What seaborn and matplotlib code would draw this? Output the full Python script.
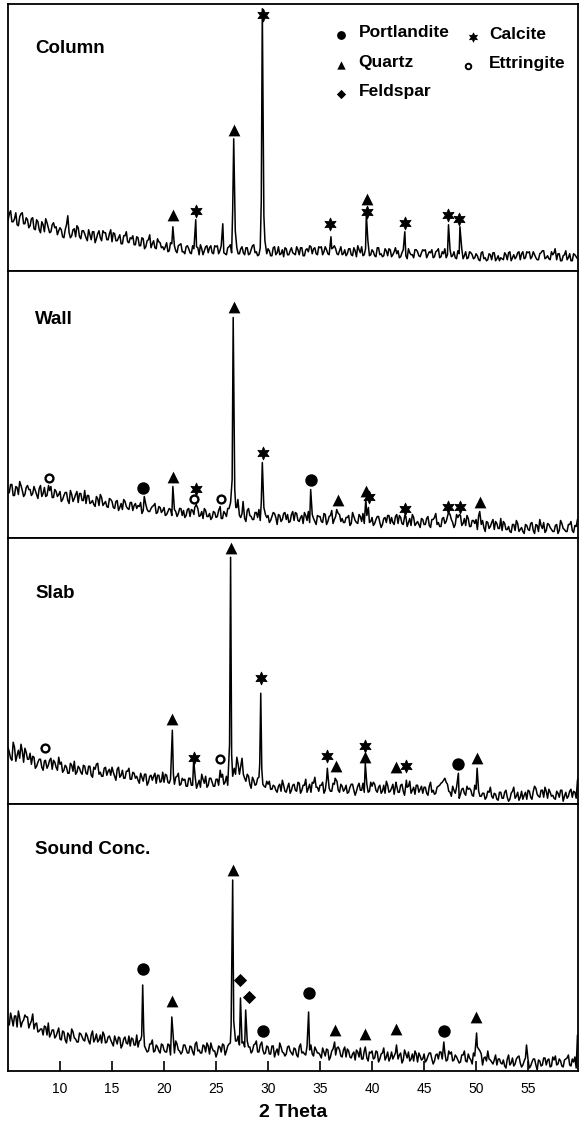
import numpy as np
import pandas as pd
import matplotlib
matplotlib.use("Agg")
import matplotlib.pyplot as plt
import seaborn as sns

# 2-theta grid of the scan (deg): main points every 0.25, plus in-between points
theta_grid = np.arange(5.0, 59.8, 0.25)
theta_mid = theta_grid + 0.125

# ---- background traces (intensity, a.u.) ----
column_base = [
    50, 60, 49, 58, 45, 57, 47, 53, 43, 52,
    42, 51, 41, 49, 39, 48, 38, 46, 43, 36,
    43, 34, 41, 55, 33, 41, 34, 43, 32, 40,
    33, 41, 31, 39, 32, 40, 30, 38, 31, 37,
    29, 37, 30, 36, 27, 35, 29, 33, 35, 26,
    33, 25, 32, 24, 31, 23, 30, 22, 29, 23,
    21, 28, 20, 27, 25, 18, 26, 19, 17, 25,
    18, 25, 17, 23, 26, 16, 24, 18, 25, 17,
    24, 17, 25, 18, 16, 24, 18, 26, 23, 17,
    24, 16, 23, 17, 25, 18, 15, 23, 17, 24,
    22, 15, 23, 16, 24, 17, 14, 22, 16, 23,
    17, 24, 16, 23, 15, 22, 25, 17, 23, 16,
    23, 16, 24, 17, 15, 23, 22, 16, 24, 17,
    15, 22, 16, 23, 14, 21, 24, 16, 22, 15,
    21, 15, 23, 16, 14, 22, 15, 21, 16, 23,
    20, 14, 21, 15, 22, 16, 13, 21, 15, 18,
    20, 13, 19, 21, 14, 20, 13, 19, 22, 16,
    21, 15, 13, 20, 14, 12, 19, 13, 18, 12,
    17, 11, 18, 12, 10, 17, 11, 18, 12, 10,
    12, 18, 11, 19, 13, 12, 18, 11, 19, 13,
    18, 12, 19, 13, 11, 18, 20, 13, 12, 19,
    18, 11, 17, 10, 16, 11, 17, 10, 16, 12,
]
column_mid = [
    57, 49, 52, 46, 54, 58, 47, 51, 45, 53,
    41, 49, 38, 46, 52, 43, 39, 48, 44, 40,
    41, 33, 46, 38, 35, 42, 45, 34, 40, 37,
    30, 36, 39, 28, 37, 33, 40, 38, 31, 41,
    38, 30, 33, 27, 35, 39, 28, 32, 26, 34,
    25, 33, 22, 30, 36, 27, 23, 32, 28, 24,
    24, 19, 28, 22, 20, 25, 27, 19, 24, 22,
    17, 22, 24, 16, 22, 20, 25, 23, 18, 25,
    25, 20, 22, 17, 23, 26, 18, 21, 17, 22,
    18, 23, 16, 21, 26, 19, 16, 23, 20, 17,
    20, 15, 24, 18, 16, 21, 23, 16, 20, 18,
    16, 21, 23, 15, 21, 19, 24, 22, 17, 24,
    24, 19, 21, 16, 22, 25, 17, 20, 16, 21,
    17, 22, 15, 20, 25, 18, 15, 22, 19, 16,
    19, 14, 23, 17, 15, 20, 22, 14, 19, 17,
    13, 18, 20, 12, 18, 16, 21, 19, 14, 21,
    21, 16, 18, 13, 19, 22, 14, 17, 13, 18,
    14, 19, 12, 17, 22, 15, 12, 19, 16, 13,
    15, 10, 19, 13, 11, 16, 18, 10, 15, 13,
    11, 16, 18, 10, 16, 14, 19, 17, 12, 19,
    19, 14, 16, 11, 17, 20, 12, 15, 11, 16,
    12, 17, 10, 15, 20, 13, 10, 17, 14, 11,
]
wall_base = [
    44, 53, 42, 51, 43, 52, 41, 50, 48, 42,
    51, 43, 49, 41, 50, 42, 47, 40, 48, 41,
    46, 38, 45, 37, 47, 36, 43, 35, 44, 37,
    34, 42, 35, 33, 41, 32, 40, 34, 31, 39,
    36, 29, 37, 30, 28, 36, 29, 35, 27, 34,
    32, 35, 27, 33, 26, 29, 32, 24, 31, 25,
    30, 23, 29, 22, 28, 21, 29, 22, 20, 28,
    21, 27, 20, 29, 22, 19, 27, 21, 18, 26,
    20, 27, 19, 26, 21, 29, 40, 40, 30, 22,
    24, 19, 27, 22, 18, 25, 20, 17, 25, 23,
    22, 17, 25, 20, 23, 16, 24, 18, 15, 23,
    17, 24, 16, 22, 25, 17, 15, 23, 16, 22,
    21, 15, 23, 16, 22, 14, 21, 24, 16, 15,
    20, 22, 14, 21, 15, 23, 16, 14, 22, 15,
    20, 14, 21, 15, 13, 20, 22, 14, 15, 21,
    14, 20, 13, 21, 15, 12, 20, 14, 13, 19,
    13, 19, 12, 18, 20, 13, 11, 19, 14, 21,
    23, 15, 13, 20, 22, 14, 12, 19, 11, 17,
    18, 22, 13, 10, 16, 9, 15, 8, 14, 9,
    7, 14, 8, 6, 13, 7, 14, 8, 6, 13,
    8, 14, 7, 13, 6, 12, 15, 7, 13, 8,
    6, 13, 7, 14, 8, 6, 13, 7, 12, 18,
]
wall_mid = [
    45, 53, 42, 50, 56, 47, 43, 52, 48, 44,
    47, 39, 52, 44, 41, 48, 51, 40, 46, 43,
    36, 42, 45, 34, 43, 39, 46, 44, 37, 47,
    42, 34, 37, 31, 39, 43, 32, 36, 30, 38,
    30, 36, 27, 34, 38, 31, 28, 35, 32, 29,
    31, 24, 35, 28, 26, 31, 34, 25, 30, 27,
    22, 26, 28, 20, 26, 24, 29, 27, 22, 29,
    28, 23, 25, 21, 26, 29, 21, 24, 20, 25,
    21, 27, 19, 24, 29, 35, 40, 40, 27, 20,
    24, 16, 29, 21, 18, 25, 28, 17, 23, 20,
    15, 21, 24, 13, 22, 18, 25, 23, 16, 26,
    25, 17, 20, 14, 22, 26, 15, 19, 13, 21,
    16, 24, 13, 21, 27, 18, 14, 23, 19, 15,
    20, 12, 25, 17, 14, 21, 24, 13, 19, 16,
    12, 18, 21, 10, 19, 15, 22, 20, 13, 23,
    22, 14, 17, 11, 19, 23, 12, 16, 10, 18,
    13, 21, 10, 18, 24, 15, 11, 20, 16, 12,
    18, 10, 23, 15, 12, 19, 22, 11, 17, 14,
    8, 14, 17, 6, 15, 11, 18, 16, 9, 19,
    16, 8, 11, 5, 13, 17, 6, 10, 4, 12,
    7, 15, 4, 12, 18, 9, 5, 14, 10, 6,
    12, 4, 17, 9, 6, 13, 16, 5, 11, 20,
]
slab_base = [
    57, 46, 62, 43, 54, 60, 42, 52, 45, 40,
    47, 38, 45, 37, 43, 36, 44, 35, 42, 34,
    40, 32, 39, 31, 41, 33, 30, 38, 32, 39,
    31, 38, 29, 37, 40, 30, 28, 36, 29, 35,
    37, 28, 35, 27, 34, 26, 33, 25, 32, 26,
    24, 31, 23, 30, 22, 29, 28, 21, 29, 23,
    22, 29, 21, 27, 20, 28, 19, 26, 25, 18,
    26, 19, 27, 20, 17, 25, 28, 19, 26, 18,
    25, 19, 27, 20, 28, 24, 30, 36, 47, 30,
    46, 26, 30, 20, 27, 19, 26, 28, 20, 17,
    20, 15, 19, 14, 18, 13, 19, 12, 21, 14,
    20, 13, 21, 14, 19, 12, 20, 22, 27, 17,
    19, 22, 14, 18, 13, 21, 26, 14, 20, 13,
    19, 12, 20, 14, 13, 21, 14, 12, 20, 13,
    18, 20, 12, 19, 13, 11, 19, 13, 20, 14,
    12, 19, 13, 20, 18, 11, 17, 19, 12, 18,
    17, 11, 18, 12, 10, 17, 19, 22, 26, 20,
    12, 18, 11, 17, 10, 16, 9, 15, 14, 8,
    15, 13, 8, 11, 7, 12, 8, 11, 5, 12,
    6, 12, 7, 5, 13, 6, 12, 7, 5, 12,
    14, 7, 13, 16, 8, 14, 7, 13, 15, 8,
    6, 13, 7, 14, 8, 6, 13, 7, 12, 24,
]
slab_mid = [
    52, 44, 57, 49, 46, 53, 56, 45, 51, 48,
    36, 42, 45, 34, 43, 39, 46, 44, 37, 47,
    42, 34, 37, 31, 39, 43, 32, 36, 30, 38,
    30, 38, 27, 35, 41, 32, 28, 37, 33, 29,
    32, 24, 37, 29, 26, 33, 36, 25, 31, 28,
    21, 27, 30, 19, 28, 24, 31, 29, 22, 32,
    30, 22, 25, 19, 27, 31, 20, 24, 18, 26,
    19, 27, 16, 24, 30, 21, 17, 26, 22, 18,
    25, 17, 30, 22, 19, 26, 40, 30, 40, 38,
    30, 23, 28, 16, 24, 20, 27, 25, 18, 23,
    23, 15, 18, 12, 20, 24, 13, 17, 11, 19,
    14, 22, 11, 19, 25, 16, 12, 21, 17, 13,
    19, 11, 24, 16, 13, 20, 23, 12, 18, 15,
    11, 17, 20, 9, 18, 14, 21, 19, 12, 22,
    22, 14, 17, 11, 19, 23, 12, 16, 10, 18,
    12, 20, 9, 17, 23, 14, 10, 19, 15, 11,
    17, 9, 22, 14, 11, 18, 21, 24, 22, 13,
    8, 14, 17, 6, 15, 11, 18, 16, 9, 19,
    16, 8, 11, 5, 13, 17, 6, 10, 4, 12,
    6, 14, 3, 11, 17, 8, 4, 13, 9, 5,
    13, 5, 18, 10, 7, 14, 17, 6, 12, 9,
    5, 11, 14, 3, 12, 8, 15, 13, 6, 28,
]
sound_base = [
    48, 58, 45, 55, 60, 44, 51, 54, 43, 50,
    42, 48, 40, 42, 45, 36, 34, 41, 33, 39,
    32, 40, 31, 38, 30, 39, 32, 29, 37, 31,
    38, 30, 36, 29, 37, 31, 28, 36, 29, 35,
    28, 35, 27, 33, 26, 34, 27, 25, 32, 26,
    24, 31, 30, 22, 20, 27, 19, 26, 20, 27,
    21, 19, 26, 20, 18, 27, 20, 19, 26, 18,
    25, 19, 27, 20, 18, 26, 19, 25, 28, 20,
    14, 25, 19, 26, 20, 27, 28, 30, 30, 26,
    28, 24, 30, 24, 20, 27, 19, 26, 21, 18,
    24, 17, 25, 19, 16, 24, 18, 17, 25, 18,
    23, 16, 24, 18, 17, 25, 21, 17, 24, 18,
    16, 23, 15, 21, 14, 22, 16, 24, 15, 21,
    14, 20, 13, 19, 21, 14, 12, 20, 13, 19,
    20, 13, 19, 12, 18, 11, 19, 13, 12, 18,
    12, 18, 11, 17, 19, 12, 10, 17, 18, 11,
    17, 11, 18, 12, 10, 17, 19, 12, 18, 11,
    17, 10, 16, 11, 9, 16, 10, 17, 11, 18,
    20, 22, 17, 13, 10, 12, 9, 11, 6, 12,
    7, 5, 12, 6, 13, 7, 14, 8, 6, 13,
    11, 5, 12, 6, 11, 5, 13, 6, 12, 5,
    11, 6, 12, 5, 11, 13, 6, 12, 14, 36,
]
sound_mid = [
    46, 52, 55, 44, 53, 49, 56, 54, 47, 57,
    47, 39, 42, 36, 44, 48, 37, 41, 35, 43,
    31, 39, 28, 36, 42, 33, 29, 38, 34, 30,
    35, 27, 40, 32, 29, 36, 39, 28, 34, 31,
    25, 31, 34, 23, 32, 28, 35, 33, 26, 36,
    30, 22, 25, 19, 27, 31, 20, 24, 18, 26,
    19, 27, 16, 24, 30, 21, 17, 26, 22, 18,
    24, 16, 29, 21, 18, 25, 28, 17, 23, 20,
    18, 24, 27, 16, 25, 28, 35, 30, 35, 32,
    29, 21, 24, 18, 26, 30, 19, 23, 17, 25,
    17, 25, 14, 22, 28, 19, 15, 24, 20, 16,
    22, 14, 27, 19, 16, 23, 26, 15, 21, 18,
    13, 19, 22, 11, 20, 16, 23, 21, 14, 24,
    22, 14, 17, 11, 19, 23, 12, 16, 10, 18,
    12, 20, 9, 17, 23, 14, 10, 19, 15, 11,
    16, 8, 21, 13, 10, 17, 20, 9, 15, 12,
    9, 15, 18, 7, 16, 12, 19, 17, 10, 20,
    19, 11, 14, 8, 16, 20, 9, 13, 7, 15,
    24, 20, 6, 14, 20, 11, 7, 16, 12, 8,
    11, 3, 16, 8, 5, 12, 15, 4, 10, 7,
    3, 9, 12, 1, 10, 6, 13, 11, 4, 14,
    15, 7, 10, 4, 12, 16, 5, 9, 3, 30,
]

# ---- reflections (2theta, intensity) ----
column_peak_x = [20.85, 23.05, 25.65, 26.6, 26.7, 26.85, 29.35, 29.45, 29.6, 29.7,
                 36.05, 39.45, 39.6, 43.15, 47.35, 48.45, 57.6]
column_peak_y = [44, 51, 47, 60, 132, 40, 70, 262, 55, 30,
                 34, 56, 30, 39, 46, 44, 22]
wall_peak_x = [8.9, 18.1, 20.85, 22.95, 23.1, 25.4, 26.4, 26.55, 26.65, 26.8, 26.9,
               27.1, 27.6, 29.35, 29.45, 29.6, 34.1, 36.6, 39.4, 39.65, 43.15,
               47.35, 48.4, 50.35]
wall_peak_y = [52, 41, 51, 30, 33, 31, 35, 58, 220, 48, 30,
               38, 36, 35, 75, 30, 48, 28, 38, 30, 22,
               25, 23, 26]
slab_peak_x = [8.6, 20.8, 20.9, 22.85, 25.4, 26.3, 26.4, 26.5, 26.6, 29.2, 29.3, 29.4,
               35.7, 36.45, 39.35, 42.3, 43.3, 48.3, 50.1]
slab_peak_y = [44, 74, 30, 44, 34, 60, 247, 50, 28, 40, 111, 35,
               36, 26, 41, 22, 24, 31, 36]
sound_peak_x = [17.85, 17.95, 18.05, 20.75, 20.85, 26.45, 26.6, 26.7, 27.35, 27.85,
                29.4, 33.9, 36.4, 39.35, 42.35, 46.9, 50.05, 54.85]
sound_peak_y = [35, 86, 40, 54, 40, 45, 191, 50, 73, 61,
                29, 59, 29, 24, 26, 29, 38, 26]

# ---- phase identification marks ----
column_mark_x = [20.9, 23.1, 26.7, 29.5, 36.0, 39.5, 39.5, 43.2, 47.3, 48.4]
column_mark_y = [56, 60, 141, 256, 47, 59, 72, 48, 56, 52]
column_mark_phase = ["Quartz", "Calcite", "Quartz", "Calcite", "Calcite", "Calcite",
                     "Quartz", "Calcite", "Calcite", "Calcite"]
wall_mark_x = [8.9, 18.0, 20.9, 22.9, 23.1, 25.5, 26.7, 29.5, 34.1, 36.7, 39.4, 39.7,
               43.2, 47.3, 48.5, 50.4]
wall_mark_y = [60, 50, 61, 39, 49, 39, 231, 85, 58, 38, 47, 41, 29, 31, 31, 36]
wall_mark_phase = ["Ettringite", "Portlandite", "Quartz", "Ettringite", "Calcite",
                   "Ettringite", "Quartz", "Calcite", "Portlandite", "Quartz", "Quartz",
                   "Calcite", "Calcite", "Calcite", "Calcite", "Quartz"]
slab_mark_x = [8.6, 20.8, 22.9, 25.4, 26.4, 29.3, 35.7, 36.5, 39.3, 39.3, 42.3, 43.3,
               48.3, 50.1]
slab_mark_y = [56, 85, 46, 45, 256, 126, 48, 38, 47, 58, 37, 38, 40, 46]
slab_mark_phase = ["Ettringite", "Quartz", "Calcite", "Ettringite", "Quartz", "Calcite",
                   "Calcite", "Quartz", "Quartz", "Calcite", "Quartz", "Calcite",
                   "Portlandite", "Quartz"]
sound_mark_x = [17.95, 20.75, 26.6, 27.35, 28.2, 29.5, 33.9, 36.4, 39.3, 42.3, 46.9, 50.0]
sound_mark_y = [102, 70, 201, 91, 74, 40, 78, 41, 37, 42, 40, 54]
sound_mark_phase = ["Portlandite", "Quartz", "Quartz", "Feldspar", "Feldspar",
                    "Portlandite", "Portlandite", "Quartz", "Quartz", "Quartz",
                    "Portlandite", "Quartz"]

panel_names = ["Column", "Wall", "Slab", "Sound Conc."]
legend_phases = ["Portlandite", "Quartz", "Feldspar", "Calcite", "Ettringite"]

STAR = (6, 1, 0)
marker_style = {
    "Portlandite": dict(marker="o", s=80, color="black", linewidth=0),
    "Quartz": dict(marker="^", s=72, color="black", linewidth=0),
    "Feldspar": dict(marker="D", s=45, color="black", linewidth=0),
    "Calcite": dict(marker=STAR, s=85, color="black", linewidth=0.6, edgecolor="black"),
    "Ettringite": dict(marker="o", s=32, color="white", edgecolor="black", linewidth=1.7),
}


def build_trace(base, mid, peak_x, peak_y):
    grid_x = np.concatenate([theta_grid, theta_mid])
    grid_y = np.concatenate([np.asarray(base, dtype=float), np.asarray(mid, dtype=float)])
    px = np.asarray(peak_x, dtype=float)
    # background points that sit under a reflection are replaced by it
    keep = np.array([np.min(np.abs(px - t)) > 0.06 for t in grid_x])
    df = pd.DataFrame({
        "theta": np.concatenate([grid_x[keep], px]),
        "counts": np.concatenate([grid_y[keep], peak_y]),
    })
    return df.sort_values("theta").reset_index(drop=True)


sns.set_theme(style="white")
plt.rcParams["font.family"] = ["Liberation Sans", "DejaVu Sans"]
plt.rcParams["text.color"] = "black"
plt.rcParams["axes.labelcolor"] = "black"
plt.rcParams["xtick.color"] = "black"

fig, axes = plt.subplots(4, 1, figsize=(5.88, 11.21), dpi=100, sharex=True)
fig.subplots_adjust(left=8 / 588, right=578 / 588, top=1 - 4 / 1121,
                    bottom=50 / 1121, hspace=0)

traces = [
    build_trace(column_base, column_mid, column_peak_x, column_peak_y),
    build_trace(wall_base, wall_mid, wall_peak_x, wall_peak_y),
    build_trace(slab_base, slab_mid, slab_peak_x, slab_peak_y),
    build_trace(sound_base, sound_mid, sound_peak_x, sound_peak_y),
]
marks = [
    (column_mark_x, column_mark_y, column_mark_phase),
    (wall_mark_x, wall_mark_y, wall_mark_phase),
    (slab_mark_x, slab_mark_y, slab_mark_phase),
    (sound_mark_x, sound_mark_y, sound_mark_phase),
]
label_y = [222, 218, 211, 221]

for i, ax in enumerate(axes):
    sns.lineplot(data=traces[i], x="theta", y="counts", ax=ax, color="black",
                 linewidth=1.1, sort=False, estimator=None)
    mdf = pd.DataFrame({"x": marks[i][0], "y": marks[i][1], "phase": marks[i][2]})
    for phase, grp in mdf.groupby("phase"):
        sns.scatterplot(data=grp, x="x", y="y", ax=ax, zorder=3, **marker_style[phase])
    ax.text(7.6, label_y[i], panel_names[i], fontsize=13.5, fontweight="bold",
            va="center", ha="left")
    ax.set_xlim(5.0, 59.8)
    ax.set_ylim(0, 266.75)
    ax.set_yticks([])
    ax.set_ylabel("")
    for sp in ax.spines.values():
        sp.set_color("black")
        sp.set_linewidth(1.3)
    ax.tick_params(axis="x", direction="in", length=7, width=1.2, color="black",
                   bottom=(i == 3), labelsize=10, pad=8, labelcolor="black")

# legend drawn inside the top panel
ax0 = axes[0]
leg_pos = {
    "Portlandite": (37.0, 236, 38.7),
    "Quartz": (37.0, 206, 38.7),
    "Feldspar": (37.0, 177, 38.7),
    "Calcite": (49.7, 234, 51.3),
    "Ettringite": (49.2, 205, 51.2),
}
for phase in legend_phases:
    mx, my, tx = leg_pos[phase]
    st = dict(marker_style[phase])
    st["s"] = st["s"] * 0.5
    if phase == "Ettringite":
        st["linewidth"] = 1.4
    sns.scatterplot(x=[mx], y=[my], ax=ax0, zorder=3, **st)
    ax0.text(tx, my + 2, phase, fontsize=12.5, fontweight="bold", va="center", ha="left")

axes[3].set_xticks([10, 15, 20, 25, 30, 35, 40, 45, 50, 55])
axes[3].set_xlabel("2 Theta", fontsize=14, fontweight="bold", labelpad=6)
for ax in axes[:3]:
    ax.set_xlabel("")

fig.savefig("out.png", dpi=100)
